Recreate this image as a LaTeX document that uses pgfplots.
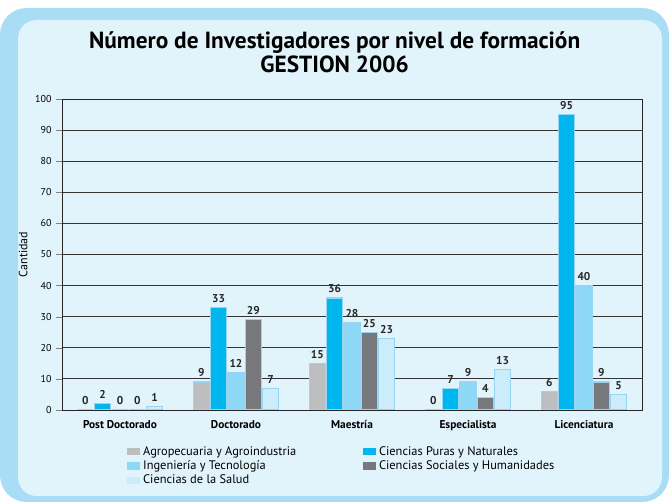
\documentclass[border=0pt]{standalone}
\usepackage{pgfplots}
\pgfplotsset{compat=1.18}
\usepackage{fontspec}
\setmainfont{PT Sans}
\setsansfont{PT Sans}

\definecolor{agro}{HTML}{BCBEC0}
\definecolor{puras}{HTML}{00B6EE}
\definecolor{inge}{HTML}{8DD7F7}
\definecolor{soc}{HTML}{77787B}
\definecolor{salud}{HTML}{CBEDFB}
\definecolor{frame}{HTML}{A9DDF6}
\definecolor{panel}{HTML}{E1F3FB}
\definecolor{edge}{HTML}{96D6F3}

\begin{document}
\begin{tikzpicture}
% background frame (1px = 0.75pt)
\fill[white] (0,0) rectangle (501.75pt,376.5pt);
\fill[frame, rounded corners=20pt] (0,0) rectangle (501.75pt,370.5pt);
\fill[panel, rounded corners=14pt] (13.5pt,4.5pt) rectangle (496.5pt,361.5pt);

\node[font=\fontsize{17.5}{18}\selectfont\bfseries, align=center] at (251pt,337.5pt)
  {Número de Investigadores por nivel de formación\\GESTION 2006};

\begin{axis}[
    at={(46.5pt,69pt)}, anchor=south west,
    scale only axis,
    width=435pt, height=233.25pt,
    ybar=1pt,
    bar width=12pt,
    xmin=-0.5, xmax=4.5,
    ymin=0, ymax=100,
    xtick=data,
    xticklabels={Post Doctorado, Doctorado, Maestría, Especialista, Licenciatura},
    xticklabel style={font=\fontsize{8.5}{10}\selectfont\bfseries},
    xtick style={draw=none},
    ytick={0,10,...,100},
    ytick pos=left,
    tick align=outside,
    yticklabel style={font=\fontsize{7.5}{9}\selectfont},
    /pgf/number format/assume math mode=true,
    ylabel={Cantidad},
    ylabel style={font=\fontsize{9}{11}\selectfont, yshift=-1pt},
    ymajorgrids=true,
    grid style={black!80, line width=0.6pt},
    axis line style={black!85, line width=0.6pt},
    nodes near coords,
    every node near coord/.append style={font=\fontsize{8.5}{10}\selectfont\bfseries, black!85},
    legend columns=2,
    legend cell align=left,
    legend style={at={(0.105,-0.10)}, anchor=north west, draw=none, fill=none,
        font=\fontsize{9.3}{11}\selectfont, row sep=-1.5pt,
        /tikz/column 2/.style={column sep=48pt}},
    legend image code/.code={\fill[#1,draw=none] (0pt,-2.5pt) rectangle (10pt,3pt);},
]
\addplot[fill=agro, draw=edge, line width=0.9pt] coordinates {(0,0) (1,9) (2,15) (3,0) (4,6)};
\addplot[fill=puras, draw=edge, line width=0.9pt] coordinates {(0,2) (1,33) (2,36) (3,7) (4,95)};
\addplot[fill=inge, draw=edge, line width=0.9pt] coordinates {(0,0) (1,12) (2,28) (3,9) (4,40)};
\addplot[fill=soc, draw=edge, line width=0.9pt] coordinates {(0,0) (1,29) (2,25) (3,4) (4,9)};
\addplot[fill=salud, draw=edge, line width=0.9pt] coordinates {(0,1) (1,7) (2,23) (3,13) (4,5)};
\legend{Agropecuaria y Agroindustria, Ciencias Puras y Naturales,
        Ingeniería y Tecnología, Ciencias Sociales y Humanidades,
        Ciencias de la Salud}
\end{axis}
\end{tikzpicture}
\end{document}
